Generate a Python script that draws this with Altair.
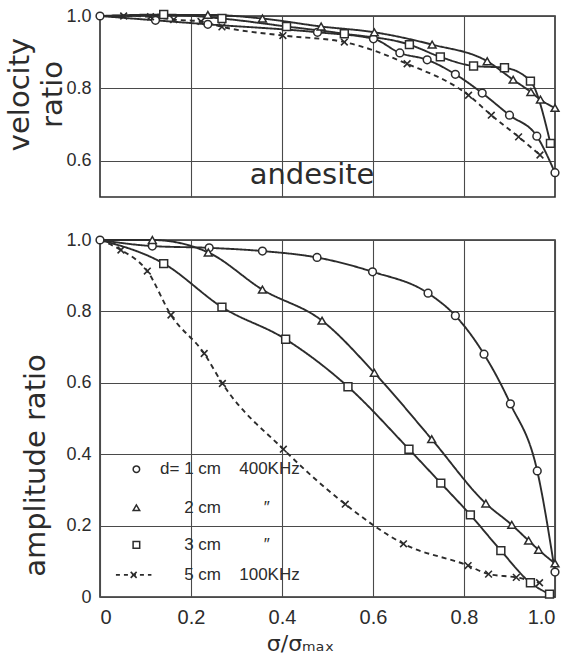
import altair as alt
import pandas as pd

# ---------------- data ----------------
series = ["d=1 cm 400KHz", "2 cm", "3 cm", "5 cm 100KHz"]

# velocity ratio (top panel, andesite)
v_circle_x = [0.0, 0.122, 0.237, 0.478, 0.601, 0.659, 0.719, 0.781, 0.840, 0.900, 0.960, 1.0]
v_circle_y = [1.0, 0.988, 0.977, 0.955, 0.937, 0.898, 0.879, 0.839, 0.787, 0.726, 0.668, 0.567]
v_tri_x = [0.237, 0.357, 0.486, 0.603, 0.730, 0.851, 0.908, 0.947, 0.968, 1.0]
v_tri_y = [1.003, 0.993, 0.971, 0.955, 0.921, 0.875, 0.824, 0.790, 0.769, 0.746]
v_sq_x = [0.140, 0.268, 0.410, 0.537, 0.680, 0.748, 0.821, 0.889, 0.946, 0.990]
v_sq_y = [1.004, 0.993, 0.971, 0.951, 0.921, 0.887, 0.862, 0.857, 0.820, 0.648]
v_x_x = [0.052, 0.111, 0.162, 0.222, 0.268, 0.402, 0.537, 0.675, 0.810, 0.860, 0.920, 0.967]
v_x_y = [1.0, 0.998, 0.990, 0.985, 0.970, 0.946, 0.928, 0.868, 0.781, 0.726, 0.666, 0.616]

# amplitude ratio (bottom panel)
a_circle_x = [0.0, 0.115, 0.240, 0.357, 0.477, 0.599, 0.721, 0.781, 0.844, 0.902, 0.961, 1.0]
a_circle_y = [1.0, 0.983, 0.978, 0.969, 0.951, 0.911, 0.851, 0.788, 0.680, 0.541, 0.353, 0.070]
a_tri_x = [0.115, 0.238, 0.357, 0.488, 0.603, 0.729, 0.848, 0.905, 0.942, 0.964, 1.0]
a_tri_y = [1.000, 0.965, 0.861, 0.774, 0.628, 0.442, 0.262, 0.202, 0.158, 0.132, 0.094]
a_sq_x = [0.140, 0.268, 0.408, 0.545, 0.679, 0.749, 0.814, 0.881, 0.946, 0.988]
a_sq_y = [0.934, 0.812, 0.722, 0.589, 0.414, 0.319, 0.230, 0.130, 0.040, 0.008]
a_x_x = [0.046, 0.104, 0.156, 0.229, 0.269, 0.403, 0.539, 0.667, 0.809, 0.854, 0.915, 0.966]
a_x_y = [0.972, 0.913, 0.790, 0.682, 0.598, 0.414, 0.260, 0.149, 0.088, 0.064, 0.055, 0.040]

top_ticks = [0.6, 0.8, 1.0]
bottom_ticks = [0, 0.2, 0.4, 0.6, 0.8, 1.0]
x_ticks = [0, 0.2, 0.4, 0.6, 0.8, 1.0]

legend_main = ["d= 1 cm", "2 cm", "3 cm", "5 cm"]
legend_freq = ["400KHz", "\u2033", "\u2033", "100KHz"]

# ---------------- styling ----------------
INK = "#2c2c2c"
GRID = "#4a4a4a"
LABEL_FONT = "Liberation Sans"
TITLE_FONT = "DejaVu Sans"
SHAPES = ["circle", "triangle-up", "square", "M-1,-1L1,1M-1,1L1,-1"]
SIZES = [60, 62, 62, 45]
W = 455


def frame(xs_list, ys_list):
    rows_pts, rows_line = [], []
    for s, xs, ys in zip(series, xs_list, ys_list):
        if xs[0] > 0:  # every curve starts at ratio 1 for zero stress
            rows_line.append({"series": s, "x": 0.0, "y": 1.0})
        for xv, yv in zip(xs, ys):
            rows_pts.append({"series": s, "x": xv, "y": yv})
            rows_line.append({"series": s, "x": xv, "y": yv})
    return pd.DataFrame(rows_pts), pd.DataFrame(rows_line)


v_pts, v_line = frame([v_circle_x, v_tri_x, v_sq_x, v_x_x], [v_circle_y, v_tri_y, v_sq_y, v_x_y])
a_pts, a_line = frame([a_circle_x, a_tri_x, a_sq_x, a_x_x], [a_circle_y, a_tri_y, a_sq_y, a_x_y])

dash = alt.StrokeDash("series:N", scale=alt.Scale(domain=series, range=[[1, 0], [1, 0], [1, 0], [5, 4]]),
                      legend=None)


def panel(pts, line, xaxis, yscale, yaxis, height):
    xenc = alt.X("x:Q", scale=alt.Scale(domain=[0, 1], nice=False), axis=xaxis)
    yenc = alt.Y("y:Q", scale=yscale, axis=yaxis)
    lines = alt.Chart(line).mark_line(interpolate="monotone", color=INK, strokeWidth=1.9).encode(
        x=xenc, y=yenc, detail="series:N", strokeDash=dash)
    layers = [lines]
    for s, shp, sz in zip(series, SHAPES, SIZES):
        sub = pts[pts["series"] == s]
        if shp.startswith("M"):
            m = alt.Chart(sub).mark_point(shape=shp, filled=False, stroke=INK, strokeWidth=1.6,
                                          size=sz, opacity=1)
        else:
            m = alt.Chart(sub).mark_point(shape=shp, filled=True, fill="white", stroke=INK,
                                          strokeWidth=1.5, size=sz, opacity=1)
        layers.append(m.encode(x="x:Q", y="y:Q"))
    return alt.layer(*layers).properties(width=W, height=height)


# ---- top panel ----
top_x_axis = alt.Axis(values=[0.2, 0.4, 0.6, 0.8], labels=False, ticks=False, domain=False, title=None,
                      grid=True, gridColor=GRID, gridWidth=1.1, gridOpacity=1)
top_y_axis = alt.Axis(values=top_ticks, format=".1f", ticks=False, domain=False, grid=True,
                      gridColor=GRID, gridWidth=1.1, gridOpacity=1,
                      labelFont=LABEL_FONT, labelFontSize=18, labelColor=INK, labelPadding=9,
                      title=["velocity", "ratio"], titleFont=TITLE_FONT, titleFontSize=29,
                      titleFontWeight="normal", titleColor=INK, titleLineHeight=33,
                      titleX=-66, titleY=78, titleAngle=270, titleAlign="center", titleBaseline="bottom")
top = panel(v_pts, v_line, top_x_axis, alt.Scale(domain=[0.5, 1.0], nice=False, zero=False),
            top_y_axis, 181)

andesite = alt.Chart(pd.DataFrame({"t": ["andesite"]})).mark_text(
    font=TITLE_FONT, fontSize=29, color=INK, baseline="middle", align="center").encode(
    x=alt.datum(0.466), y=alt.datum(0.560), text="t:N")
top = alt.layer(top, andesite)

# ---- bottom panel ----
bot_x_axis = alt.Axis(values=x_ticks, ticks=False, domain=False, grid=True,
                      gridColor=GRID, gridWidth=1.1, gridOpacity=1,
                      labelExpr="datum.value == 0 ? '0' : format(datum.value, '.1f')",
                      labelFont=LABEL_FONT, labelFontSize=20, labelColor=INK, labelPadding=10,
                      title="\u03c3/\u03c3\u2098\u2090\u2093", titleFont=TITLE_FONT, titleFontSize=22,
                      titleFontWeight="normal", titleColor=INK, titleX=200, titlePadding=6)
bot_y_axis = alt.Axis(values=bottom_ticks, ticks=False, domain=False, grid=True,
                      gridColor=GRID, gridWidth=1.1, gridOpacity=1,
                      labelExpr="datum.value == 0 ? '0' : format(datum.value, '.1f')",
                      labelFont=LABEL_FONT, labelFontSize=18, labelColor=INK, labelPadding=9,
                      title="amplitude ratio", titleFont=TITLE_FONT, titleFontSize=29,
                      titleFontWeight="normal", titleColor=INK,
                      titleX=-50, titleY=225, titleAngle=270, titleAlign="center", titleBaseline="bottom")
bottom = panel(a_pts, a_line, bot_x_axis, alt.Scale(domain=[0, 1.0], nice=False), bot_y_axis, 357)

# legend drawn inside the bottom panel
leg_rows_y = [0.358, 0.250, 0.146, 0.062]
leg_df = pd.DataFrame({"series": series, "main": legend_main, "freq": legend_freq, "ly": leg_rows_y,
                       "mx": [0.132, 0.185, 0.185, 0.185], "fx": [0.306, 0.36, 0.36, 0.306]})
leg_layers = []
for s, shp, sz in zip(series[:3], SHAPES[:3], SIZES[:3]):
    leg_layers.append(alt.Chart(leg_df[leg_df["series"] == s]).mark_point(
        shape=shp, filled=True, fill="white", stroke=INK, strokeWidth=1.5, size=sz * 0.7, opacity=1).encode(
        x=alt.datum(0.08), y="ly:Q"))
x_row = leg_df[leg_df["series"] == series[3]]
leg_layers.append(alt.Chart(x_row).mark_rule(color=INK, strokeWidth=1.8, strokeDash=[4, 4]).encode(
    x=alt.datum(0.035), x2=alt.datum(0.113), y="ly:Q"))
leg_layers.append(alt.Chart(x_row).mark_point(shape=SHAPES[3], filled=False, stroke=INK, strokeWidth=1.6,
                                              size=35, opacity=1).encode(x=alt.datum(0.074), y="ly:Q"))
leg_layers.append(alt.Chart(leg_df).mark_text(font=LABEL_FONT, fontSize=17, color=INK, align="left",
                                              baseline="middle").encode(x="mx:Q", y="ly:Q", text="main:N"))
leg_layers.append(alt.Chart(leg_df).mark_text(font=LABEL_FONT, fontSize=17, color=INK, align="left",
                                              baseline="middle").encode(x="fx:Q", y="ly:Q", text="freq:N"))
bottom = alt.layer(bottom, *leg_layers)

chart = alt.vconcat(top, bottom, spacing=43, bounds="flush").properties(
    background="white", padding={"left": 4, "top": 6, "right": 5, "bottom": 5}
).configure_view(stroke=INK, strokeWidth=1.6).configure_axis(gridCap="butt")

chart.save("out.html", embed_options={"renderer": "svg", "actions": False})
